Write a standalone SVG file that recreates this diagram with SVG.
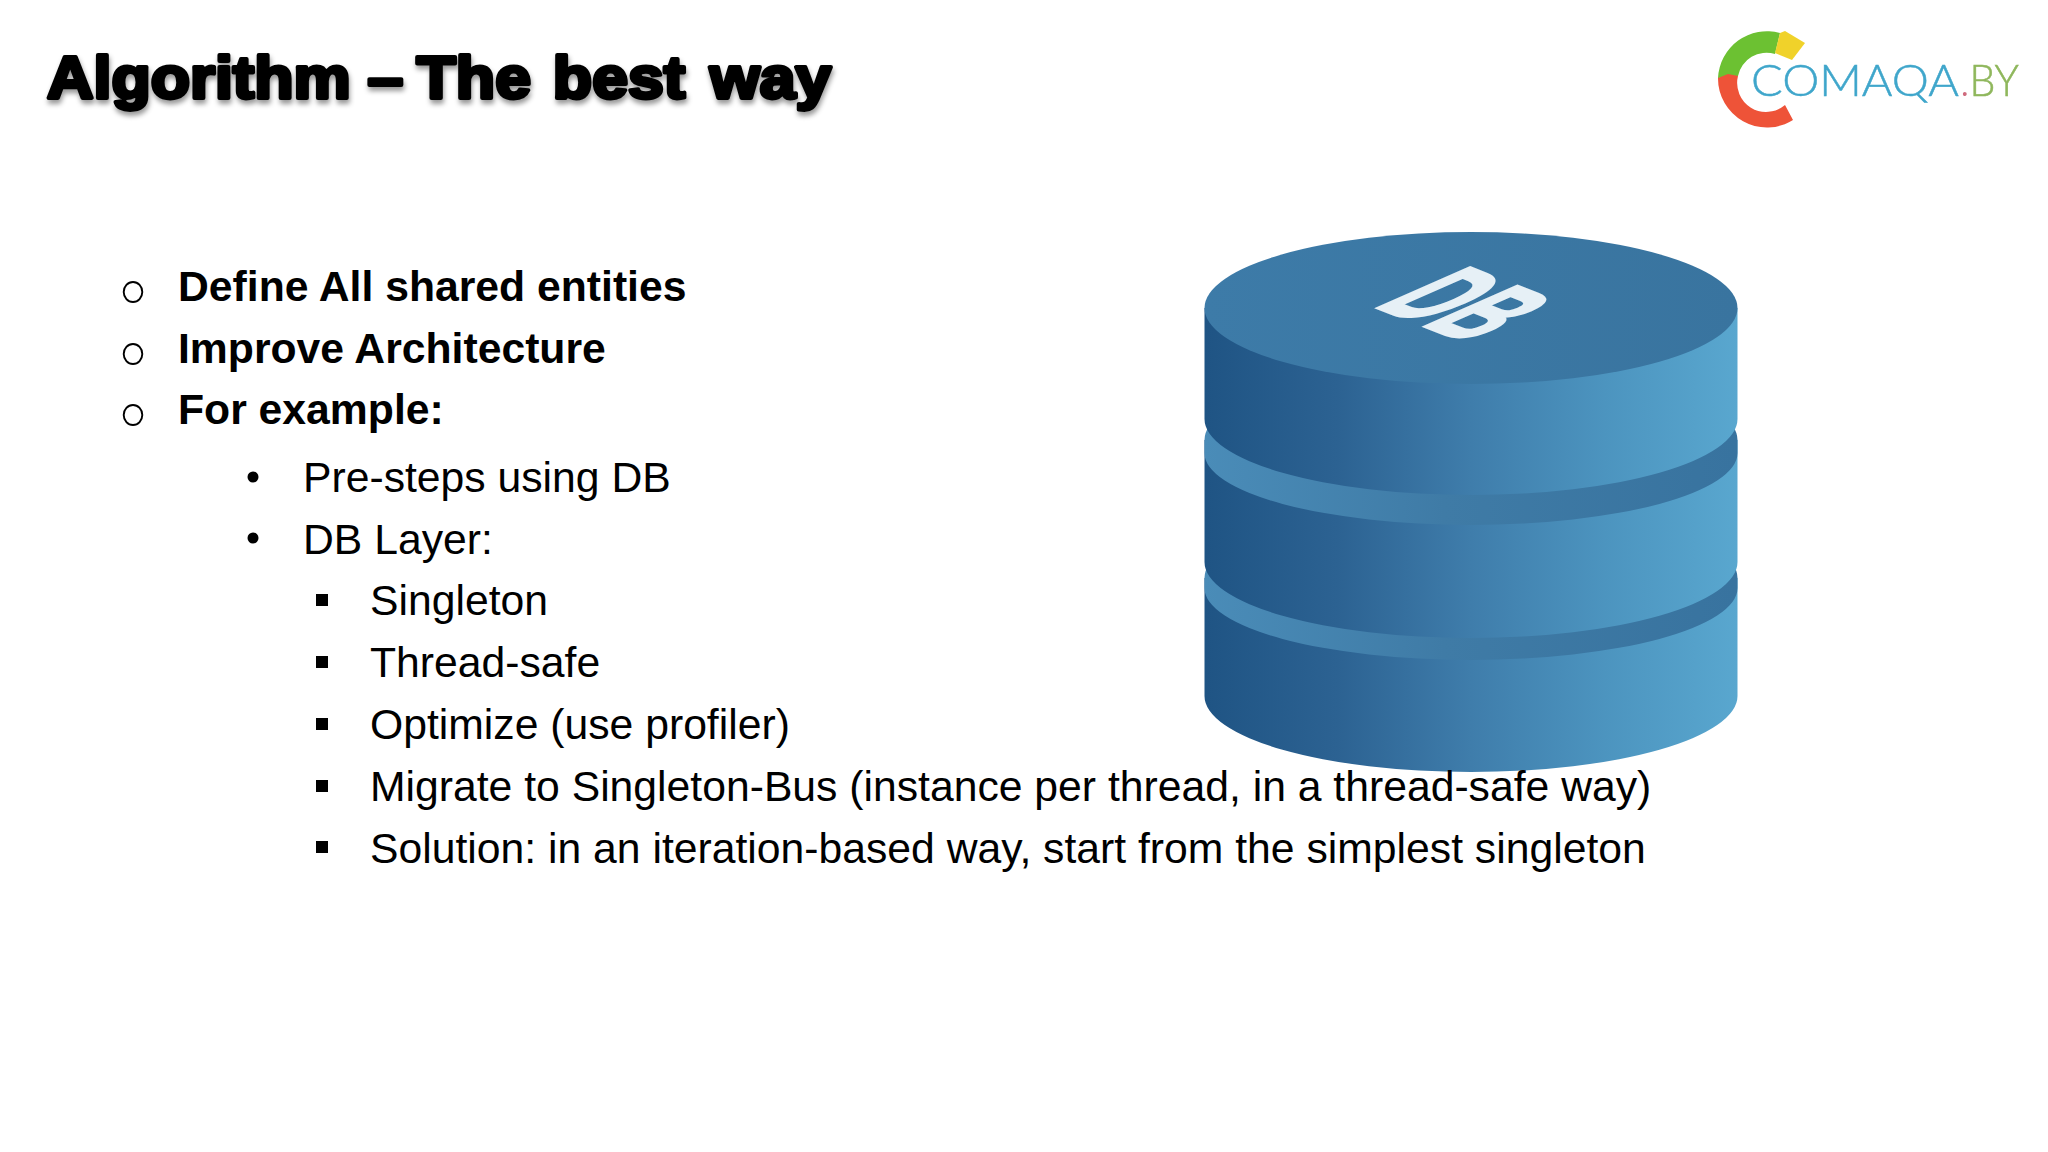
<svg xmlns="http://www.w3.org/2000/svg" width="2048" height="1152" viewBox="0 0 2048 1152">
<style>
text{font-family:"Liberation Sans",Arial,sans-serif;fill:#000}
.t{font-size:59px;font-weight:700;stroke:#000;stroke-width:3.8px;stroke-linejoin:round;filter:url(#sh)}
.b{font-size:42.7px;font-weight:700}
.n{font-size:42.7px}
.o{fill:none;stroke:#000;stroke-width:1.9}
.logo{font-family:Lato,"Open Sans",sans-serif;font-weight:300;font-size:44px;stroke-width:.5px}
</style>
<defs>
<linearGradient id="side" x1="0" x2="1" y1="0" y2="0"><stop offset="0" stop-color="#1f5484"/><stop offset=".25" stop-color="#2c6292"/><stop offset=".5" stop-color="#3f7dab"/><stop offset=".75" stop-color="#4c94bf"/><stop offset="1" stop-color="#59a7cf"/></linearGradient>
<linearGradient id="band" x1="0" x2="1" y1="0" y2="0"><stop offset="0" stop-color="#4a8cb8"/><stop offset=".45" stop-color="#3f7ba6"/><stop offset="1" stop-color="#38739f"/></linearGradient>
<linearGradient id="top" x1="0" x2="1" y1="0" y2="0"><stop offset="0" stop-color="#3d7ba8"/><stop offset="1" stop-color="#39749f"/></linearGradient>
<filter id="sh" x="-5%" y="-20%" width="110%" height="150%"><feDropShadow dx="1" dy="4" stdDeviation="2.5" flood-color="#000" flood-opacity=".4"/></filter>
<filter id="soft"><feGaussianBlur stdDeviation=".6"/></filter>
</defs>
<rect width="2048" height="1152" fill="#fff"/>
<g id="database">
<path fill="url(#side)" d="M1204.500 578V696A266.500 76 0 0 0 1737.500 696V578Z"/>
<path fill="url(#band)" d="M1204.500 578A266.500 76 0 0 1 1737.500 578V588A266.500 72 0 0 1 1204.500 588Z"/>
<path fill="url(#side)" d="M1204.500 440V562A266.500 76 0 0 0 1737.500 562V440Z"/>
<path fill="url(#band)" d="M1204.500 440A266.500 76 0 0 1 1737.500 440V453A266.500 72 0 0 1 1204.500 453Z"/>
<path fill="url(#side)" d="M1204.500 308V419A266.500 76 0 0 0 1737.500 419V308Z"/>
<ellipse cx="1471" cy="308" rx="266.500" ry="76" fill="url(#top)"/>
<text transform="matrix(.84 .33 -1.71 .75 1373 306)" style="font-family:'Liberation Sans',sans-serif;font-weight:700;font-size:78px;fill:#e6f0f6;stroke:#e6f0f6;stroke-width:2.500px">DB</text>
</g>
<g id="logo" filter="url(#soft)">
<path fill="#6cc133" d="M1718 78A49 49 0 0 1 1780 33L1775 54A29 29 0 0 0 1738 76Z"/>
<path fill="#f0d22c" d="M1780 33L1785 31L1805 43L1792 60L1775 53Z"/>
<path fill="#ee5239" d="M1718 78L1728 74L1738 76A29 29 0 0 0 1785 105L1793 120A49 49 0 0 1 1718 78Z"/>
<text class="logo" x="1751" y="96" textLength="208" lengthAdjust="spacingAndGlyphs" style="fill:#3fa6cb;stroke:#3fa6cb">COMAQA</text>
<text class="logo" x="1960" y="96" textLength="59" lengthAdjust="spacingAndGlyphs"><tspan style="fill:#cf6a7d">.</tspan><tspan style="fill:#8fb75c;stroke:#8fb75c">BY</tspan></text>
</g>
<g id="title"><text class="t" transform="translate(46 98) scale(1.09 1)"><tspan x="1">Algorithm</tspan> <tspan x="295">–</tspan> <tspan x="340">The</tspan> <tspan x="465">best</tspan> <tspan x="609">way</tspan></text></g>
<g id="bullets">
<ellipse class="o" cx="133" cy="292" rx="9.300" ry="10"/>
<ellipse class="o" cx="133" cy="354" rx="9.300" ry="10"/>
<ellipse class="o" cx="133" cy="415" rx="9.300" ry="10"/>
<circle cx="253" cy="477" r="5.500"/>
<circle cx="253" cy="538" r="5.500"/>
<rect x="316" y="594" width="12" height="12"/>
<rect x="316" y="656" width="12" height="12"/>
<rect x="316" y="718" width="12" height="12"/>
<rect x="316" y="780" width="12" height="12"/>
<rect x="316" y="841" width="12" height="12"/>
</g>
<g id="text">
<text class="b" x="178" y="301">Define All shared entities</text>
<text class="b" x="178" y="362.500">Improve Architecture</text>
<text class="b" x="178" y="424">For example:</text>
<text class="n" x="303" y="492">Pre-steps using DB</text>
<text class="n" x="303" y="554">DB Layer:</text>
<text class="n" x="370" y="615">Singleton</text>
<text class="n" x="370" y="677">Thread-safe</text>
<text class="n" x="370" y="739">Optimize (use profiler)</text>
<text class="n" x="370" y="801">Migrate to Singleton-Bus (instance per thread, in a thread-safe way)</text>
<text class="n" x="370" y="863">Solution: in an iteration-based way, start from the simplest singleton</text>
</g>
</svg>
